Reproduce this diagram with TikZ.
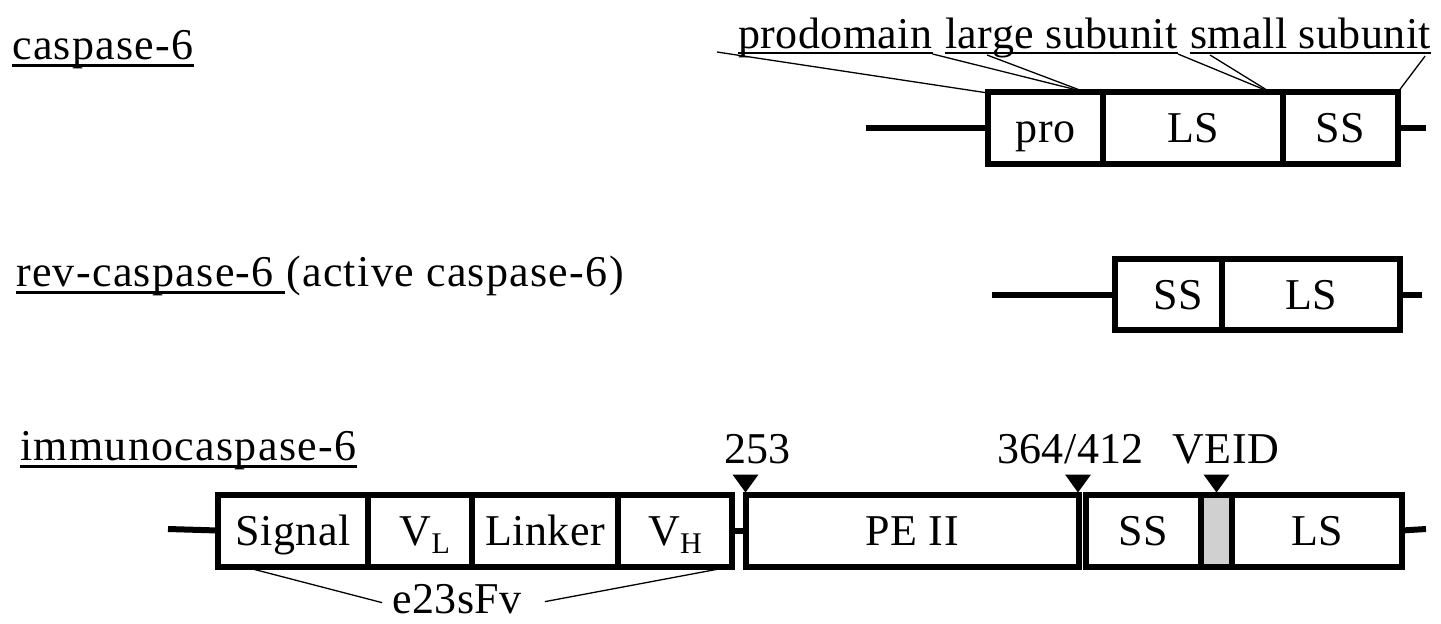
\documentclass[tikz,border=0pt]{standalone}
\usepackage{fontspec}
\setmainfont{Liberation Serif}[LetterSpace=1]
\newfontfamily\titlefont{Liberation Serif}[LetterSpace=3]
\definecolor{veidgrey}{RGB}{208,208,208}
\newcommand{\subsc}[1]{\raisebox{-8pt}{\fontsize{30}{31}\selectfont #1}}
\begin{document}
\begin{tikzpicture}[x=1pt,y=-1pt,
  txt/.style={inner sep=0pt, font=\fontsize{44}{48}\selectfont},
  title/.style={inner sep=0pt, font=\titlefont\fontsize{44}{48}\selectfont},
  box/.style={draw, line width=6pt, outer sep=0pt, inner sep=0pt,
    text height=29pt, text depth=0pt, font=\fontsize{44}{48}\selectfont},
  tail/.style={line width=6pt},
  leader/.style={line width=1.3pt},
  ulthick/.style={line width=3pt},
  ulthin/.style={line width=2pt},
  marker/.style={fill=black}]
\useasboundingbox (0,0) rectangle (1441,624);

% ---------- row 1: caspase-6 ----------
\node[title, anchor=base west] (t1) at (12,59) {caspase-6};
\draw[ulthick] ([yshift=-6pt]t1.base west) -- ([yshift=-6pt]t1.base east);

\node[box, minimum width=115pt, minimum height=72pt] (pro) at (1045.5,128) {pro};
\node[box, minimum width=180pt, minimum height=72pt] (ls1) at (1193,128) {LS};
\node[box, minimum width=115pt, minimum height=72pt] (ss1) at (1340.5,128) {SS};
\coordinate (a1) at (866,128);
\coordinate (b1) at (1426,128);
\draw[tail] (a1) -- (pro.west);
\draw[tail] (ss1.east) -- (b1);

\node[txt, anchor=base west] (lp) at (738,48) {prodomain};
\node[txt, anchor=base west] (ll) at (945,48) {large subunit};
\node[txt, anchor=base west] (lsm) at (1190,48) {small subunit};
\draw[ulthin] ([yshift=-5pt]lp.base west) -- ([yshift=-5pt]lp.base east);
\draw[ulthin] ([yshift=-5pt]ll.base west) -- ([yshift=-5pt]ll.base east);
\draw[ulthin] ([yshift=-5pt]lsm.base west) -- ([yshift=-5pt]lsm.base east);

\draw[leader] ([xshift=-21pt,yshift=-4pt]lp.base west) -- ([yshift=-1pt]pro.north west);
\draw[leader] ([yshift=-6pt]lp.base east) -- ([xshift=-18pt]pro.north east);
\draw[leader] ([xshift=42pt,yshift=-7pt]ll.base west) -- ([xshift=-18pt]pro.north east);
\draw[leader] ([yshift=-6pt]ll.base east) -- ([xshift=-13pt]ls1.north east);
\draw[leader] ([xshift=20pt,yshift=-7pt]lsm.base west) -- ([xshift=-13pt]ls1.north east);
\draw[leader] ([xshift=-6pt,yshift=-8pt]lsm.base east) -- (ss1.north east);

% ---------- row 2: rev-caspase-6 ----------
\node[title, anchor=base west] (t2a) at (16,286) {rev-caspase-6};
\node[title, anchor=base west] (t2b) at ([xshift=12pt]t2a.base east) {(active caspase-6)};
\draw[ulthick] ([yshift=-6pt]t2a.base west) -- ([xshift=11pt,yshift=-6pt]t2a.base east);

\node[box, minimum width=107pt, minimum height=71pt] (ss2) at (1168.5,294.5) {\hspace*{20pt}SS};
\node[box, minimum width=178pt, minimum height=71pt] (ls2) at (1311,294.5) {LS};
\coordinate (a2) at (992,294.5);
\coordinate (b2) at (1422,294.5);
\draw[tail] (a2) -- (ss2.west);
\draw[tail] (ls2.east) -- (b2);

% ---------- row 3: immunocaspase-6 ----------
\node[title, anchor=base west] (t3) at (20,460) {immunocaspase-6};
\draw[ulthick] ([yshift=-6pt]t3.base west) -- ([yshift=-6pt]t3.base east);

\node[box, minimum width=150pt, minimum height=72pt] (sig) at (293,530.5) {Signal};
\node[box, minimum width=104pt, minimum height=72pt] (vl) at (420,530.5) {\hspace*{10pt}V\subsc{L}};
\node[box, minimum width=146pt, minimum height=72pt] (lnk) at (545,530.5) {Linker};
\node[box, minimum width=114pt, minimum height=72pt] (vh) at (675,530.5) {V\subsc{H}};
\node[box, minimum width=333.5pt, minimum height=72pt] (pe) at (912.25,530.5) {PE II};
\node[box, minimum width=115pt, minimum height=72pt] (ss3) at (1143.5,530.5) {SS};
\node[box, minimum width=31pt, minimum height=72pt, fill=veidgrey] (veid) at (1216.5,530.5) {};
\node[box, minimum width=170pt, minimum height=72pt] (ls3) at (1317,530.5) {LS};
\coordinate (a3) at (168,529);
\coordinate (b3) at (1426,529);
\draw[tail] (a3) -- (sig.west);
\draw[tail] (vh.east) -- (pe.west);
\draw[tail] (ls3.east) -- (b3);

% cleavage markers
\fill[marker] ([yshift=2pt]pe.north west) -- ([xshift=-13pt,yshift=20pt]pe.north west) -- ([xshift=13pt,yshift=20pt]pe.north west) -- cycle;
\fill[marker] ([xshift=-1pt,yshift=2pt]pe.north east) -- ([xshift=-14pt,yshift=20pt]pe.north east) -- ([xshift=12pt,yshift=20pt]pe.north east) -- cycle;
\fill[marker] ([yshift=2pt]veid.north) -- ([xshift=-13pt,yshift=20pt]veid.north) -- ([xshift=13pt,yshift=20pt]veid.north) -- cycle;

\node[txt, anchor=base] (n253) at (757.5,463) {253};
\node[txt, anchor=base] (n364) at (1070.5,463) {364/412};
\node[txt, anchor=base] (nveid) at (1226,463) {VEID};

% e23sFv
\node[txt, anchor=base] (e23) at (457,613) {e23sFv};
\draw[leader] ([xshift=25pt]sig.south west) -- ([xshift=-10pt,yshift=-4pt]e23.west);
\draw[leader] (vh.south east) -- ([xshift=23pt,yshift=-3pt]e23.east);
\end{tikzpicture}
\end{document}
